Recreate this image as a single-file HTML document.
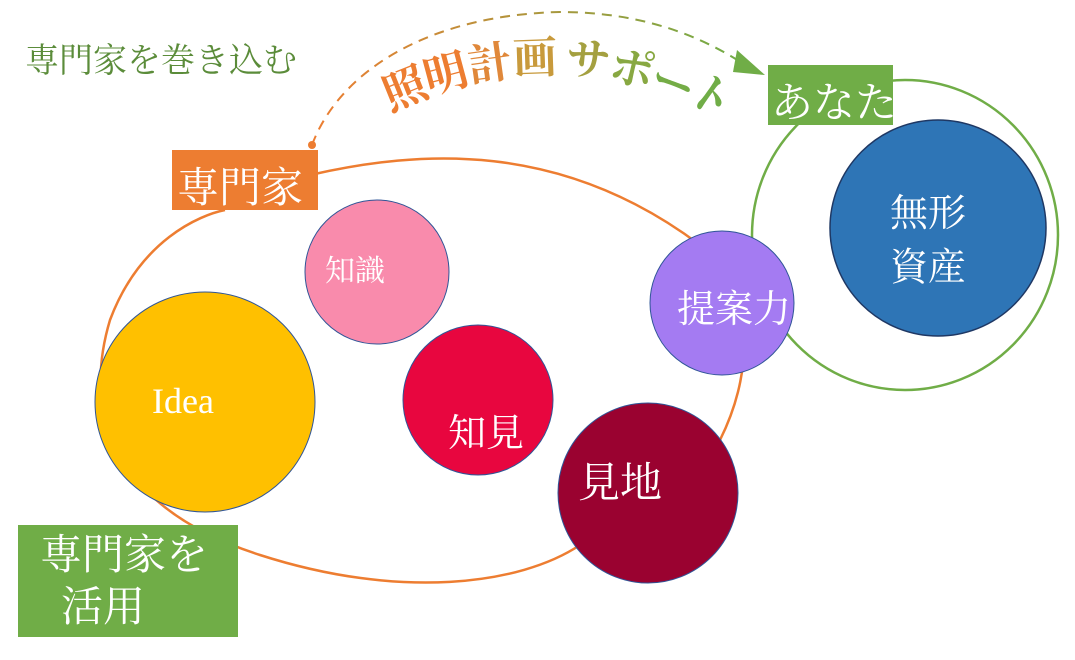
<!DOCTYPE html>
<html><head><meta charset="utf-8"><style>
body{margin:0;width:1075px;height:660px;background:#fff;overflow:hidden;position:relative;font-family:"Liberation Serif","Noto Serif CJK SC",serif}
svg{position:absolute;left:0;top:0}
.t{position:absolute;color:#fff;white-space:nowrap}
.c{position:absolute;font-weight:bold;font-size:44px;line-height:50px;width:44px;text-align:center;white-space:nowrap}
</style></head><body>
<svg width="1075" height="660">
<defs><linearGradient id="g" x1="0" x2="1"><stop offset="0" stop-color="#ED7D31"/><stop offset="1" stop-color="#70AD47"/></linearGradient></defs>
<circle cx="312" cy="145" r="4" fill="#ED7D31"/>
<path d="M312 145 C340 70 430 15 560 12 C640 12 700 35 745 65" fill="none" stroke="url(#g)" stroke-width="2" stroke-dasharray="10 7"/>
<polygon points="737,50 765,75 733,72" fill="#70AD47"/>
<ellipse cx="905" cy="235" rx="153" ry="155" fill="none" stroke="#70AD47" stroke-width="2.5"/>
<path d="M310 175 C420 150 560 140 700 245 C760 300 750 380 720 440 M580 545 C520 585 400 600 260 555 C120 510 80 420 110 320 C140 240 200 215 225 210" fill="none" stroke="#ED7D31" stroke-width="2.5"/>
<circle cx="205" cy="402" r="110" fill="#FFC000" stroke="#2F5597" stroke-width="1"/>
<circle cx="377" cy="272" r="72" fill="#F98BAC" stroke="#2F5597" stroke-width="1"/>
<circle cx="478" cy="400" r="75" fill="#E8063F" stroke="#2F5597" stroke-width="1"/>
<circle cx="648" cy="493" r="90" fill="#9A0230" stroke="#2F5597" stroke-width="1"/>
<circle cx="722" cy="303" r="72" fill="#A47BF2" stroke="#2F5597" stroke-width="1"/>
<circle cx="938" cy="228" r="108" fill="#2E75B6" stroke="#1F3864" stroke-width="1.5"/>
<rect x="172" y="150" width="146" height="60" fill="#ED7D31"/>
<rect x="768" y="65" width="125" height="60" fill="#70AD47"/>
<rect x="18" y="525" width="220" height="112" fill="#70AD47"/>
</svg>
<div class="t" style="left:25px;top:33px;font-size:34px;color:#5B8C3A">専門家を巻き込む</div>
<div class="t" style="left:177px;top:155px;font-size:42px">専門家</div>
<div class="t" style="left:771px;top:70px;font-size:42px">あなた</div>
<div class="t" style="left:40px;top:530px;font-size:42px;line-height:52px">専門家を<br>&nbsp;&nbsp;活用</div>
<div class="t" style="left:152px;top:380px;font-size:36px">Idea</div>
<div class="t" style="left:325px;top:246px;font-size:30px">知識</div>
<div class="t" style="left:448px;top:402px;font-size:38px">知見</div>
<div class="t" style="left:578px;top:450px;font-size:42px">見地</div>
<div class="t" style="left:677px;top:278px;font-size:38px">提案力</div>
<div class="t" style="left:890px;top:187px;font-size:38px;line-height:54px">無形<br>資産</div>
<div class="c" style="left:383px;top:65px;color:#ED7D31;transform:rotate(-22deg)">照</div>
<div class="c" style="left:424px;top:50px;color:#ED7D31;transform:rotate(-15deg)">明</div>
<div class="c" style="left:468px;top:40px;color:#E0883A;transform:rotate(-8deg)">計</div>
<div class="c" style="left:513px;top:34px;color:#C89A3C;transform:rotate(-2deg)">画</div>
<div class="c" style="left:566px;top:36px;color:#A4A040;transform:rotate(6deg)">サ</div>
<div class="c" style="left:610px;top:45px;color:#88A842;transform:rotate(14deg)">ポ</div>
<div class="c" style="left:650px;top:60px;color:#74AC46;transform:rotate(24deg)">ー</div>
<div class="c" style="left:688px;top:72px;color:#70AD47;transform:rotate(35deg)">ト</div>
</body></html>
